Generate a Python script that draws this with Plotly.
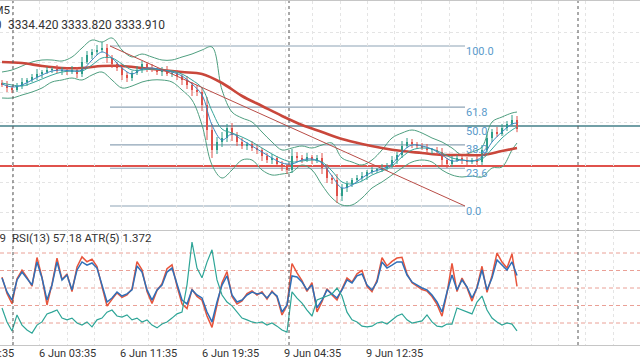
import plotly.graph_objects as go

# ---------------- data ----------------
close = [3356.0, 3354.5, 3353.5, 3355.5, 3357.5, 3358.5, 3360.0, 3361.5, 3362.5, 3363.5,
         3364.0, 3363.0, 3363.5, 3362.5, 3363.5, 3361.5, 3367.5, 3371.0, 3372.5, 3373.5,
         3374.5, 3369.5, 3366.5, 3364.5, 3361.0, 3359.5, 3362.0, 3363.5, 3366.5, 3364.5,
         3363.5, 3362.5, 3363.5, 3361.5, 3362.0, 3360.5, 3358.5, 3356.0, 3353.5, 3352.5,
         3346.0, 3333.5, 3323.5, 3327.5, 3329.5, 3334.5, 3331.0, 3327.5, 3325.5, 3326.5,
         3324.5, 3323.5, 3320.5, 3318.5, 3319.5, 3316.5, 3315.5, 3313.5, 3320.5, 3319.5,
         3318.5, 3320.0, 3318.5, 3319.5, 3314.5, 3309.5, 3308.5, 3300.5, 3304.5, 3306.5,
         3308.5, 3309.5, 3310.5, 3312.5, 3313.5, 3313.5, 3314.5, 3315.5, 3318.5, 3321.0,
         3325.5, 3327.5, 3326.5, 3325.5, 3324.5, 3323.5, 3323.5, 3322.5, 3318.5, 3316.5,
         3318.5, 3319.5, 3318.5, 3317.5, 3318.5, 3317.5, 3323.5, 3329.5, 3332.5, 3331.5,
         3334.5, 3336.5, 3338.5, 3333.91]
first_open = 3357.0
# upper / lower shadow lengths (price units)
wick_up = [1.5, 2.0, 1.0, 1.5, 2.0, 1.0, 1.5, 2.5, 1.0, 1.5,
           1.0, 2.0, 1.5, 1.0, 2.0, 1.5, 2.5, 2.0, 1.5, 2.5,
           3.0, 2.0, 1.5, 1.0, 2.0, 1.5, 1.0, 2.0, 1.5, 1.0,
           2.0, 1.0, 1.5, 2.0, 1.0, 1.5, 1.0, 2.0, 1.5, 2.5,
           2.0, 4.0, 3.0, 2.5, 3.0, 2.0, 2.5, 1.5, 2.0, 1.0,
           1.5, 2.0, 1.0, 1.5, 2.0, 1.0, 1.5, 1.0, 3.5, 2.0,
           1.5, 2.0, 1.0, 1.5, 2.5, 2.0, 1.5, 3.0, 2.0, 1.5,
           1.0, 1.5, 2.0, 1.0, 1.5, 1.0, 2.0, 1.5, 2.0, 1.5,
           2.5, 2.0, 1.5, 1.0, 1.5, 2.0, 1.0, 1.5, 2.0, 1.0,
           2.0, 1.5, 1.0, 1.5, 1.0, 2.0, 2.5, 2.0, 1.5, 2.5,
           2.0, 1.5, 2.5, 2.0]
wick_dn = [1.0, 2.0, 1.5, 1.0, 1.5, 2.0, 1.0, 1.5, 2.0, 1.0,
           1.5, 1.0, 2.0, 1.5, 1.0, 2.0, 1.5, 1.0, 2.0, 1.5,
           1.0, 2.5, 2.0, 1.5, 2.5, 2.0, 1.5, 1.0, 1.5, 2.0,
           1.0, 1.5, 2.0, 1.0, 1.5, 2.0, 2.5, 2.0, 3.0, 2.0,
           3.0, 5.0, 4.0, 2.0, 2.5, 2.0, 3.0, 2.0, 1.5, 2.0,
           1.5, 2.0, 2.5, 1.5, 2.0, 1.5, 2.5, 2.0, 1.5, 2.0,
           1.5, 1.0, 2.0, 1.5, 3.0, 2.5, 2.0, 3.5, 2.5, 2.0,
           1.5, 1.0, 1.5, 2.0, 1.0, 1.5, 1.0, 1.5, 1.0, 2.0,
           1.5, 1.0, 2.0, 1.5, 1.0, 1.5, 2.0, 1.5, 2.5, 2.0,
           1.5, 1.0, 2.0, 1.5, 1.0, 2.0, 1.5, 1.0, 2.0, 1.5,
           1.0, 1.5, 1.0, 1.5]

# slow MA, sampled every 4th bar plus the last bar
slow_ma = [3367.5, 3367.0, 3365.5, 3364.5, 3364.5, 3365.5, 3365.5, 3364.5, 3363.5, 3362.5,
           3361.5, 3357.0, 3350.5, 3345.5, 3340.5, 3336.0, 3332.5, 3329.0, 3326.5, 3324.5,
           3323.0, 3322.0, 3321.0, 3321.0, 3321.0, 3323.0, 3324.5]

# Bollinger bands and fast MAs, sampled every 2nd bar plus the last bar
bb_upper = [3362.5, 3363.5, 3365.5, 3367.5, 3368.5, 3368.5, 3368.0, 3370.0, 3374.5, 3378.5,
            3377.5, 3379.5, 3373.5, 3370.0, 3371.5, 3370.0, 3368.5, 3368.5, 3370.0, 3371.5,
            3373.5, 3375.0, 3353.5, 3342.5, 3339.5, 3337.5, 3332.5, 3327.5, 3323.5, 3324.5,
            3325.5, 3324.5, 3326.0, 3327.0, 3319.5, 3317.5, 3316.0, 3318.5, 3323.5, 3329.5,
            3332.0, 3333.5, 3332.0, 3329.5, 3327.5, 3324.5, 3321.0, 3322.5, 3325.0, 3337.5,
            3340.0, 3342.0, 3342.5]
bb_lower = [3349.5, 3349.5, 3351.0, 3352.5, 3354.5, 3357.5, 3358.5, 3359.5, 3358.5, 3361.0,
            3362.5, 3358.5, 3354.5, 3355.5, 3357.5, 3358.5, 3358.5, 3357.5, 3353.5, 3348.5,
            3336.0, 3316.0, 3309.5, 3313.5, 3318.5, 3318.5, 3313.5, 3311.0, 3311.5, 3312.5,
            3316.0, 3313.5, 3306.0, 3299.5, 3296.0, 3296.0, 3299.5, 3304.5, 3307.5, 3311.0,
            3314.5, 3317.5, 3318.5, 3317.5, 3313.5, 3311.0, 3310.0, 3310.5, 3310.0, 3314.5,
            3315.0, 3323.5, 3327.0]
fast_ma = [3356.5, 3355.0, 3356.0, 3358.5, 3361.0, 3363.0, 3363.5, 3363.0, 3363.5, 3368.5,
           3372.5, 3369.5, 3364.5, 3361.5, 3364.0, 3364.5, 3363.5, 3362.5, 3360.5, 3356.5,
           3351.0, 3336.0, 3328.5, 3331.5, 3328.5, 3325.5, 3322.5, 3319.5, 3317.0, 3316.5,
           3318.5, 3319.0, 3317.0, 3310.5, 3304.5, 3306.0, 3309.5, 3312.5, 3314.0, 3316.5,
           3322.5, 3326.0, 3325.5, 3324.0, 3321.0, 3318.0, 3318.5, 3318.0, 3320.0, 3327.5,
           3332.5, 3336.5, 3337.0]
mid_ma = [3357.0, 3356.0, 3355.5, 3357.0, 3359.0, 3361.0, 3362.5, 3363.0, 3363.0, 3366.0,
          3369.5, 3369.5, 3366.5, 3363.5, 3363.5, 3364.0, 3363.5, 3363.0, 3361.5, 3358.5,
          3354.5, 3343.0, 3334.0, 3332.0, 3330.0, 3327.5, 3324.5, 3321.5, 3319.0, 3317.5,
          3318.0, 3318.5, 3317.5, 3313.0, 3307.5, 3306.5, 3308.0, 3311.0, 3313.0, 3315.5,
          3320.0, 3323.5, 3324.5, 3324.0, 3322.0, 3319.5, 3318.5, 3318.0, 3319.0, 3324.0,
          3329.5, 3333.5, 3335.0]

rsi13 = [55.7, 47.7, 43.1, 54.6, 59.1, 55.7, 51.7, 64.9, 55.7, 43.1,
         51.7, 64.9, 54.6, 57.4, 48.9, 60.3, 64.9, 63.1, 64.3, 61.4,
         51.7, 42.0, 44.3, 47.7, 45.4, 46.6, 48.9, 62.6, 59.1, 48.9,
         43.1, 48.9, 51.7, 59.1, 61.4, 51.7, 43.1, 40.9, 48.9, 46.0,
         44.3, 36.3, 30.6, 42.0, 51.7, 56.9, 46.0, 42.0, 43.1, 46.0,
         47.7, 46.6, 47.1, 44.3, 47.7, 45.4, 36.3, 40.3, 56.9, 56.3,
         53.4, 48.9, 51.7, 38.6, 43.1, 48.9, 46.6, 44.3, 48.9, 54.6,
         52.9, 56.9, 58.0, 51.7, 48.9, 53.4, 64.9, 61.4, 63.1, 64.9,
         64.9, 57.4, 53.4, 51.7, 50.0, 48.9, 46.0, 42.0, 36.3, 47.7,
         57.4, 48.9, 54.6, 50.6, 44.3, 50.0, 60.3, 48.9, 55.7, 66.0,
         63.1, 60.3, 64.9, 57.18]
osc_fast = [56.2, 46.9, 41.0, 55.3, 60.2, 56.0, 51.0, 67.4, 56.0, 40.3,
            52.2, 67.0, 54.9, 58.0, 48.0, 62.0, 67.8, 65.0, 66.5, 62.3,
            50.8, 39.7, 43.5, 47.2, 44.6, 46.0, 49.5, 65.1, 60.4, 48.0,
            41.2, 48.6, 52.5, 61.0, 63.2, 51.0, 41.0, 38.2, 49.3, 45.2,
            43.0, 34.0, 27.5, 41.3, 53.0, 59.4, 45.1, 40.8, 42.6, 46.8,
            48.4, 46.0, 47.8, 43.6, 48.3, 44.8, 34.6, 40.0, 64.0, 58.6,
            54.2, 48.1, 53.0, 36.4, 42.2, 49.6, 46.0, 43.2, 49.7, 55.8,
            53.4, 58.1, 60.0, 51.0, 47.9, 54.4, 67.3, 62.6, 65.2, 67.1,
            67.5, 58.1, 53.0, 51.2, 49.1, 48.2, 45.1, 40.6, 33.9, 47.2,
            64.0, 48.0, 55.7, 50.2, 42.5, 50.6, 62.4, 47.5, 57.0, 70.0,
            64.8, 61.4, 69.5, 50.89]
atr5 = [2.03, 1.63, 1.37, 1.83, 1.54, 1.40, 1.31, 1.54, 1.63, 1.86,
        1.91, 1.97, 1.74, 1.69, 1.74, 1.60, 1.54, 1.63, 1.49, 1.69,
        1.74, 1.91, 1.97, 1.80, 1.77, 1.83, 1.69, 1.74, 1.63, 1.69,
        1.54, 1.46, 1.57, 1.63, 1.74, 1.86, 1.91, 2.69, 3.91, 3.17,
        2.89, 3.34, 3.69, 2.83, 2.40, 2.20, 2.09, 1.91, 1.74, 1.69,
        1.63, 1.60, 1.63, 1.54, 1.60, 1.51, 1.40, 1.34, 2.49, 2.31,
        2.17, 1.97, 1.80, 2.26, 2.31, 2.37, 2.43, 2.60, 2.37, 1.91,
        1.69, 1.63, 1.51, 1.49, 1.51, 1.60, 1.63, 1.57, 1.69, 1.80,
        1.86, 1.69, 1.60, 1.63, 1.66, 1.83, 1.63, 1.51, 1.49, 1.57,
        1.57, 2.03, 1.97, 1.91, 1.86, 2.20, 2.37, 1.97, 1.74, 1.63,
        1.54, 1.60, 1.57, 1.372]

tick_labels = ["5 Jun 19:35", "6 Jun 03:35", "6 Jun 11:35", "6 Jun 19:35",
               "9 Jun 04:35", "9 Jun 12:35"]
fib_levels = [100.0, 61.8, 50.0, 38.2, 23.6, 0.0]
fib_high, fib_low = 3375.5, 3295.5
fib_start_bar, fib_end_bar = 21.6, 92.6
hline_teal_price = 3335.5
hline_red_price = 3315.5
day_separator_bars = [2.2, 57.4, 115.2]
rsi_levels = [70, 60, 50, 40, 30]
header_symbol = "XAUUSD, M5"
header_prev = "3333.890"
header_ohlc = "3334.420 3333.820 3333.910"
sub_header_prev = "50.89"
sub_header = "RSI(13) 57.18 ATR(5) 1.372"

# ---------------- derived ----------------
n = len(close)
bars = list(range(n))
opens = [first_open] + close[:-1]
body_low = [min(o, c) for o, c in zip(opens, close)]
body_top = [max(o, c) for o, c in zip(opens, close)]
body_h = [max(t - l, 0.4) for t, l in zip(body_top, body_low)]
is_up = [c >= o for o, c in zip(opens, close)]
UP, DN = "#2e9e8a", "#e0524a"
body_col = [UP if u else DN for u in is_up]
idx2 = list(range(0, n, 2)) + [n - 1]
idx4 = list(range(0, n, 4)) + [n - 1]

W, H = 640, 360
T, B = 1, 15
PH = H - T - B
X_RANGE = [-0.4, 127.6]
split = 115 / PH
Y_MAIN = [3283.5, 3398.0]
Y_RSI = [17.43, 83.14]
Y_ATR = [0.971, 4.257]
tick0, tick_step = 13.0, 16.38
tickvals = [tick0 + (k - 1) * tick_step for k in range(len(tick_labels))]


def px2paper_x(px):
    return px / W


def py2paper_y(py):
    return (H - B - py) / PH


def bar2paper_x(b):
    return (b - X_RANGE[0]) / (X_RANGE[1] - X_RANGE[0])


FONT = "Roboto, 'Noto Sans', sans-serif"
TXT = "#333333"
GRID = "#e4e4e4"

fig = go.Figure()

for band in (bb_upper, bb_lower):
    fig.add_trace(go.Scatter(x=idx2, y=band, mode="lines", line=dict(color="#4f9f80", width=1, shape="spline"),
                             hoverinfo="skip", xaxis="x", yaxis="y"))
fig.add_trace(go.Scatter(x=idx4, y=slow_ma, mode="lines", line=dict(color="#c9473b", width=2.6, shape="spline"),
                         xaxis="x", yaxis="y"))
# shadows
for want_up, col in ((True, UP), (False, DN)):
    wx, wy = [], []
    for i in bars:
        if is_up[i] == want_up:
            wx += [i, i, None]
            wy += [body_low[i] - wick_dn[i], body_top[i] + wick_up[i], None]
    fig.add_trace(go.Scatter(x=wx, y=wy, mode="lines", line=dict(color=col, width=1),
                             xaxis="x", yaxis="y", hoverinfo="skip"))
fig.add_trace(go.Bar(x=bars, y=body_h, base=body_low, width=0.5, marker=dict(color=body_col, line=dict(width=0)),
                     xaxis="x", yaxis="y"))
fig.add_trace(go.Scatter(x=idx2, y=mid_ma, mode="lines", line=dict(color="#37a59b", width=1, shape="spline"),
                         xaxis="x", yaxis="y"))
fig.add_trace(go.Scatter(x=idx2, y=fast_ma, mode="lines", line=dict(color="#3a86c0", width=1, shape="spline"),
                         xaxis="x", yaxis="y"))

fig.add_trace(go.Scatter(x=bars, y=atr5, mode="lines", line=dict(color="#2ea597", width=1.2),
                         xaxis="x2", yaxis="y3"))
fig.add_trace(go.Scatter(x=bars, y=osc_fast, mode="lines", line=dict(color="#e8553c", width=1.5),
                         xaxis="x2", yaxis="y2"))
fig.add_trace(go.Scatter(x=bars, y=rsi13, mode="lines", line=dict(color="#2f6fb8", width=1.5),
                         xaxis="x2", yaxis="y2"))

shapes = []
shapes.append(dict(type="line", xref="paper", yref="y", x0=0, x1=1, y0=hline_teal_price, y1=hline_teal_price,
                   line=dict(color="#729fa6", width=2), layer="below"))
shapes.append(dict(type="line", xref="paper", yref="y", x0=0, x1=1, y0=hline_red_price, y1=hline_red_price,
                   line=dict(color="#e0524c", width=1.8), layer="below"))
annotations = []
for lvl in fib_levels:
    p = fib_low + (fib_high - fib_low) * lvl / 100.0
    shapes.append(dict(type="line", xref="x", yref="y", x0=fib_start_bar, x1=fib_end_bar, y0=p, y1=p,
                       line=dict(color="#8ea3b6", width=1.2), layer="below"))
    annotations.append(dict(x=fib_end_bar, y=p, xref="x", yref="y", text=f"{lvl:.1f}", showarrow=False,
                            xanchor="left", yanchor="middle", yshift=-5, xshift=-1,
                            font=dict(family=FONT, size=11, color="#5b9bcb")))
shapes.append(dict(type="line", xref="x", yref="y", x0=fib_start_bar, x1=fib_end_bar, y0=fib_high, y1=fib_low,
                   line=dict(color="#b84c46", width=1)))
for lv in rsi_levels:
    shapes.append(dict(type="line", xref="paper", yref="y2", x0=0, x1=1, y0=lv, y1=lv,
                       line=dict(color="#eaa096", width=1, dash="4px,3px"), layer="below"))
for b in day_separator_bars:
    shapes.append(dict(type="line", xref="x", yref="paper", x0=b, x1=b, y0=0, y1=1,
                       line=dict(color="#555555", width=1, dash="3px,3px")))

annotations += [
    dict(x=px2paper_x(12), y=py2paper_y(10), xref="paper", yref="paper", text=header_symbol, showarrow=False,
         xanchor="right", yanchor="middle", font=dict(family=FONT, size=11.5, color=TXT)),
    dict(x=px2paper_x(3.5), y=py2paper_y(25), xref="paper", yref="paper", text=header_prev, showarrow=False,
         xanchor="right", yanchor="middle", font=dict(family=FONT, size=12, color=TXT)),
    dict(x=px2paper_x(6), y=py2paper_y(25), xref="paper", yref="paper", text=header_ohlc, showarrow=False,
         xanchor="left", yanchor="middle", font=dict(family=FONT, size=12, color=TXT)),
    dict(x=px2paper_x(7.5), y=py2paper_y(238), xref="paper", yref="paper", text=sub_header_prev, showarrow=False,
         xanchor="right", yanchor="middle", font=dict(family=FONT, size=11.5, color=TXT)),
    dict(x=px2paper_x(10), y=py2paper_y(238), xref="paper", yref="paper", text=sub_header, showarrow=False,
         xanchor="left", yanchor="middle", font=dict(family=FONT, size=11.5, color=TXT)),
]
for tv, tl in zip(tickvals, tick_labels):
    annotations.append(dict(x=bar2paper_x(tv), y=py2paper_y(353), xref="paper", yref="paper", text=tl,
                            showarrow=False, xanchor="center", yanchor="middle",
                            font=dict(family=FONT, size=11, color=TXT)))

minor = dict(tickmode="linear", tick0=tick0, dtick=tick_step / 3, showgrid=True, gridcolor=GRID,
             griddash="dot", gridwidth=1, ticklen=0)
common_x = dict(range=X_RANGE, showgrid=True, gridcolor=GRID, griddash="dot", zeroline=False,
                tickmode="array", tickvals=tickvals, ticks="", minor=minor, showticklabels=False,
                showline=True, linecolor="#c6c6c6", linewidth=1, automargin=False)

fig.update_layout(
    template="none",
    width=W, height=H, margin=dict(l=0, r=0, t=T, b=B, pad=0, autoexpand=False),
    paper_bgcolor="white", plot_bgcolor="white", showlegend=False, bargap=0,
    font=dict(family=FONT, size=11, color=TXT),
    xaxis=dict(**common_x, domain=[0, 1], anchor="y", mirror=True),
    xaxis2=dict(**common_x, domain=[0, 1], anchor="y2"),
    yaxis=dict(domain=[split, 1], range=Y_MAIN, showticklabels=False, showgrid=True, gridcolor=GRID,
               griddash="dot", tick0=3307.5, dtick=15, zeroline=False, anchor="x", automargin=False,
               showline=False, ticks=""),
    yaxis2=dict(domain=[0, split], range=Y_RSI, showticklabels=False, showgrid=False, zeroline=False,
                anchor="x2", automargin=False, showline=False, ticks=""),
    yaxis3=dict(domain=[0, split], range=Y_ATR, overlaying="y2", showticklabels=False, showgrid=False,
                zeroline=False, anchor="x2", automargin=False, showline=False, ticks=""),
    shapes=shapes, annotations=annotations,
)

fig.write_html("out.html", config={"displayModeBar": False},
               post_script="document.body.style.margin='0';document.body.style.overflow='hidden';")
